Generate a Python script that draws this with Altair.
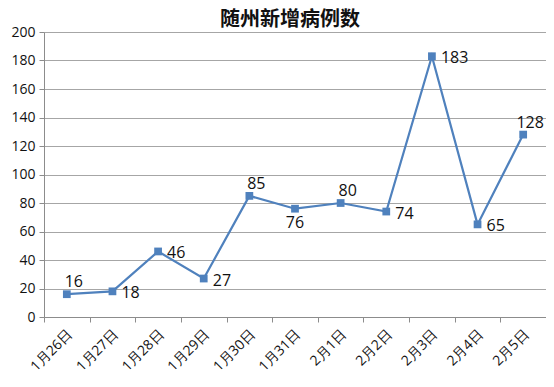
import altair as alt
import pandas as pd

title_text = "随州新增病例数"
dates = ["1月26日", "1月27日", "1月28日", "1月29日", "1月30日", "1月31日",
         "2月1日", "2月2日", "2月3日", "2月4日", "2月5日"]
cases = [16, 18, 46, 27, 85, 76, 80, 74, 183, 65, 128]

labels_above = ["1月26日", "1月30日", "2月1日", "2月5日"]
labels_right = ["1月27日", "1月28日", "1月29日", "2月2日", "2月3日", "2月4日"]
labels_below = ["1月31日"]

df = pd.DataFrame({"date": dates, "cases": cases})

color = "#4F81BD"
font = "Open Sans"

x = alt.X("date:N", sort=dates, title=None,
          scale=alt.Scale(paddingInner=0, paddingOuter=0),
          axis=alt.Axis(labelAngle=-45, labelAlign="right", labelBaseline="middle",
                        labelFontSize=14, labelColor="#111111", labelFont=font,
                        tickBand="extent", tickSize=5, tickColor="#8c8c8c",
                        domainColor="#8c8c8c", grid=False, labelPadding=10,
                        labelOffset=3))
y = alt.Y("cases:Q", title=None,
          scale=alt.Scale(domain=[0, 200], nice=False),
          axis=alt.Axis(values=list(range(0, 201, 20)), labelFontSize=14,
                        labelColor="#111111", labelFont=font, tickSize=5,
                        tickColor="#8c8c8c", domainColor="#8c8c8c",
                        gridColor="#a6a6a6", labelPadding=4))

base = alt.Chart(df).encode(x=x, y=y)

line = base.mark_line(color=color, strokeWidth=2.2)
pts = base.mark_point(shape="square", filled=True, size=60, color=color, opacity=1)

txt_kw = dict(fontSize=16, font=font, color="#111111")
above = base.transform_filter(alt.FieldOneOfPredicate(field="date", oneOf=labels_above)).mark_text(
    align="center", baseline="bottom", dx=7, dy=-4, **txt_kw).encode(text="cases:Q")
right = base.transform_filter(alt.FieldOneOfPredicate(field="date", oneOf=labels_right)).mark_text(
    align="left", baseline="middle", dx=9, dy=2, **txt_kw).encode(text="cases:Q")
below = base.transform_filter(alt.FieldOneOfPredicate(field="date", oneOf=labels_below)).mark_text(
    align="center", baseline="top", dx=0, dy=6, **txt_kw).encode(text="cases:Q")

title = alt.Chart(alt.Data(values=[{"t": title_text}])).mark_text(
    font="Noto Sans CJK SC", fontSize=20, fontWeight="bold", color="#111111",
    align="center", baseline="middle"
).encode(text="t:N", x=alt.value(246), y=alt.value(-12))

chart = alt.layer(line, pts, above, right, below, title).properties(
    width=502, height=285,
    autosize=alt.AutoSizeParams(type="none"),
    padding={"left": 36, "top": 24, "right": 0, "bottom": 60},
).configure_view(stroke=None).configure(background="white")

chart.save("out.html", embed_options={"renderer": "svg", "actions": False})
